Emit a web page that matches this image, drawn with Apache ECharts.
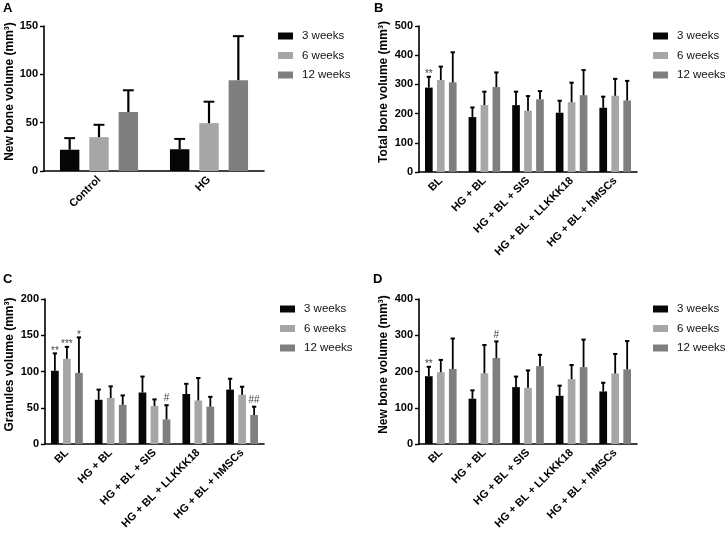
<!DOCTYPE html>
<html>
<head>
<meta charset="utf-8">
<script src="https://cdn.jsdelivr.net/npm/echarts@6/dist/echarts.min.js"></script>
<style>
html,body{margin:0;padding:0;background:#fff;}
#chart{width:727px;height:535px;}
</style>
</head>
<body>
<div id="chart"></div>
<script>
// ---------- DATA ----------
const weeks = ['3 weeks', '6 weeks', '12 weeks'];

// Panel A
const catsA = ['Control', 'HG'];
const a3 = [22, 22.5];
const a3Sd = [12, 10.7];
const a6 = [35, 49.5];
const a6Sd = [12.8, 22.2];
const a12 = [61, 94];
const a12Sd = [22.5, 45.5];
const annotA = [];

// Panels B, C, D share categories
const catsBCD = ['BL', 'HG + BL', 'HG + BL + SIS', 'HG + BL + LLKKK18', 'HG + BL + hMSCs'];

// Panel B - Total bone volume
const b3 = [289, 188, 229, 203, 220];
const b3Sd = [37, 33, 46, 41, 38];
const b6 = [315, 229, 210, 239, 261];
const b6Sd = [46, 46, 50, 67, 58];
const b12 = [307, 291, 249, 263, 245];
const b12Sd = [103, 50, 28, 86, 67];
const annotB = [[0, 0, '**']];

// Panel C - Granules volume
const c3 = [101, 61, 71, 69, 75];
const c3Sd = [24, 14, 22, 14, 15];
const c6 = [117.5, 63.5, 52.5, 60, 68];
const c6Sd = [16.5, 16, 9, 31, 11];
const c12 = [98, 54, 34, 51.5, 40];
const c12Sd = [49, 13, 19.5, 13.5, 11.5];
const annotC = [[0, 0, '**'], [0, 1, '***'], [0, 2, '*'], [2, 2, '#'], [4, 2, '##']];

// Panel D - New bone volume
const d3 = [187, 125, 157, 133, 145];
const d3Sd = [26, 23, 29, 28, 24];
const d6 = [198, 195, 155, 179, 194.5];
const d6Sd = [34, 78, 48, 39, 54];
const d12 = [207, 237, 215, 212, 206];
const d12Sd = [84, 46, 31, 76, 78];
const annotD = [[0, 0, '**'], [1, 2, '#']];

// y axis settings
const yMaxA = 150, yStepA = 50;
const yMaxB = 500, yStepB = 100;
const yMaxC = 200, yStepC = 50;
const yMaxD = 400, yStepD = 100;

// ---------- STYLE / LAYOUT ----------
const FONT = '"Liberation Sans", Arial, Helvetica, sans-serif';
const colors = ['#060606', '#a6a6a6', '#7f7f7f'];

const panels = [
  {letter: 'A', cats: catsA, means: [a3, a6, a12], sds: [a3Sd, a6Sd, a12Sd], annot: annotA,
   yMax: yMaxA, yStep: yStepA, yName: 'New bone volume (mm³)',
   grid: {left: 44, top: 26, width: 220, height: 145}, catGap: 0.29, barGap: 0.51,
   letterPos: [3, 2], legendPos: [278, 29.5], nameGap: 26},
  {letter: 'B', cats: catsBCD, means: [b3, b6, b12], sds: [b3Sd, b6Sd, b12Sd], annot: annotB,
   yMax: yMaxB, yStep: yStepB, yName: 'Total bone volume (mm³)',
   grid: {left: 419, top: 26, width: 218, height: 146}, catGap: 0.275, barGap: 0.56,
   letterPos: [374, 2], legendPos: [653, 29.5], nameGap: 29},
  {letter: 'C', cats: catsBCD, means: [c3, c6, c12], sds: [c3Sd, c6Sd, c12Sd], annot: annotC,
   yMax: yMaxC, yStep: yStepC, yName: 'Granules volume (mm³)',
   grid: {left: 45, top: 299, width: 219, height: 145}, catGap: 0.275, barGap: 0.56,
   letterPos: [3, 273], legendPos: [280, 302.5], nameGap: 29},
  {letter: 'D', cats: catsBCD, means: [d3, d6, d12], sds: [d3Sd, d6Sd, d12Sd], annot: annotD,
   yMax: yMaxD, yStep: yStepD, yName: 'New bone volume (mm³)',
   grid: {left: 419, top: 299, width: 218, height: 145}, catGap: 0.275, barGap: 0.56,
   letterPos: [373, 273], legendPos: [653, 302.5], nameGap: 29}
];

const option = {
  animation: false,
  backgroundColor: '#fff',
  textStyle: {fontFamily: FONT},
  title: [], grid: [], xAxis: [], yAxis: [], legend: [], series: []
};

panels.forEach((p, i) => {
  option.title.push({
    text: p.letter, left: p.letterPos[0], top: p.letterPos[1], padding: 0,
    textStyle: {fontFamily: FONT, fontSize: 13, fontWeight: 'bold', color: '#000'}
  });
  option.grid.push(Object.assign({containLabel: false}, p.grid));
  option.xAxis.push({
    type: 'category', gridIndex: i, data: p.cats,
    axisLine: {lineStyle: {color: '#000', width: 1.6}},
    axisTick: {alignWithLabel: true, length: 4, lineStyle: {color: '#000', width: 1.4}},
    axisLabel: {rotate: 45, margin: 7, color: '#000', fontWeight: 'bold', fontSize: 11, fontFamily: FONT, interval: 0}
  });
  option.yAxis.push({
    type: 'value', gridIndex: i, min: 0, max: p.yMax, interval: p.yStep,
    name: p.yName, nameLocation: 'middle', nameGap: p.nameGap,
    nameTextStyle: {color: '#000', fontWeight: 'bold', fontSize: 12, fontFamily: FONT, padding: [0, 0, 0, 14]},
    axisLine: {show: true, lineStyle: {color: '#000', width: 1.6}},
    axisTick: {show: true, length: 4, lineStyle: {color: '#000', width: 1.4}},
    axisLabel: {margin: 6, color: '#000', fontWeight: 'bold', fontSize: 11, fontFamily: FONT},
    splitLine: {show: false}
  });
  option.legend.push({
    left: p.legendPos[0], top: p.legendPos[1], orient: 'vertical', padding: 0,
    icon: 'rect', itemWidth: 15, itemHeight: 7, itemGap: 6.5,
    selectedMode: false, data: weeks,
    textStyle: {fontFamily: FONT, fontSize: 11.5, color: '#111', lineHeight: 13, padding: [0, 0, 0, 4]}
  });
  weeks.forEach((w, s) => {
    option.series.push({
      type: 'bar', name: w, xAxisIndex: i, yAxisIndex: i,
      data: p.means[s],
      itemStyle: {color: colors[s]},
      barCategoryGap: (p.catGap * 100) + '%', barGap: (p.barGap * 100) + '%',
      z: 2
    });
  });
  // error bars data: [cat, seriesIdx, mean, sd]
  const errData = [];
  weeks.forEach((w, s) => {
    p.means[s].forEach((m, c) => errData.push([c, s, m, p.sds[s][c]]));
  });
  const annotMap = {};
  p.annot.forEach(a => { annotMap[a[0] + '_' + a[1]] = a[2]; });
  const catGap = p.catGap, barGap = p.barGap;
  option.series.push({
    type: 'custom', xAxisIndex: i, yAxisIndex: i, z: 5, silent: true,
    data: errData,
    renderItem: function (params, api) {
      const c = api.value(0), s = api.value(1), m = api.value(2), sd = api.value(3);
      const catW = api.size([1, 0])[0];
      const bw = catW * (1 - catGap) / (3 + 2 * barGap);
      const x = api.coord([c, 0])[0] + (s - 1) * bw * (1 + barGap);
      const y0 = api.coord([c, m])[1];
      const y1 = api.coord([c, m + sd])[1];
      const half = bw * 0.28;
      const lw = bw > 12 ? 2.2 : 1.8;
      const children = [
        {type: 'line', shape: {x1: x, y1: y0, x2: x, y2: y1}, style: {stroke: '#000', lineWidth: lw}},
        {type: 'line', shape: {x1: x - half, y1: y1, x2: x + half, y2: y1}, style: {stroke: '#000', lineWidth: 2}}
      ];
      const t = annotMap[c + '_' + s];
      if (t) {
        const star = t.indexOf('*') >= 0;
        children.push({
          type: 'text',
          style: {
            text: t, x: x, y: star ? y1 + 2.5 : y1 - 1.5,
            textAlign: 'center', textVerticalAlign: 'bottom',
            font: '10px ' + FONT, fill: '#444'
          }
        });
      }
      return {type: 'group', children: children};
    }
  });
});

const chart = echarts.init(document.getElementById('chart'), null, {renderer: 'canvas'});
chart.setOption(option);
</script>
</body>
</html>
